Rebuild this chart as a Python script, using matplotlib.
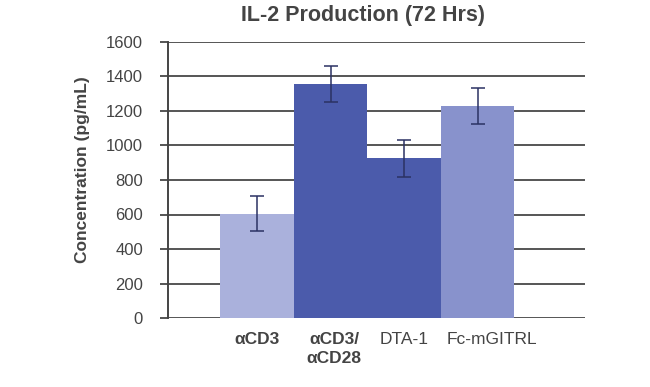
import matplotlib
matplotlib.use("Agg")
import matplotlib.pyplot as plt

categories = ["αCD3", "αCD3/\nαCD28", "DTA-1", "Fc-mGITRL"]
values = [605, 1355, 925, 1230]
errors = [100, 105, 105, 105]
colors = ["#aab1dc", "#4b5bab", "#4b5bab", "#8892cc"]
bold = [True, True, False, False]
yticks = [0, 200, 400, 600, 800, 1000, 1200, 1400, 1600]

plt.rcParams['font.family'] = ['Liberation Sans', 'DejaVu Sans']

fig = plt.figure(figsize=(6.5, 3.87), dpi=100)
ax = fig.add_axes([168/650, 1-318/387, (585-168)/650, (318-42)/387])

x = list(range(len(values)))
ax.bar(x, values, width=1.0, color=colors, zorder=2)
ax.errorbar(x, values, yerr=errors, fmt='none', ecolor='#2b3263', elinewidth=1.1,
            capsize=5, capthick=1.1, zorder=3)

ax.set_xlim(-1.21, 4.46)
ax.set_ylim(0, 1600)
ax.set_yticks(yticks)
ax.set_yticklabels([str(t) for t in yticks], fontsize=12, color='#444444')
ax.yaxis.grid(True, color='#555555', linewidth=1.4, zorder=1)
ax.set_axisbelow(True)
ax.tick_params(axis='y', length=6, width=1.4, color='#555555', pad=12)
ax.tick_params(axis='x', length=0)
ax.set_xticks(x)
ax.set_xticklabels([])
label_dx = [0.0, 0.05, 0.0, 0.19]
for xi, lab, b, dx in zip(x, categories, bold, label_dx):
    ax.text(xi + dx, -82, lab, ha='center', va='top', fontsize=12.5, color='#444444',
            fontweight='bold' if b else 'normal', linespacing=1.3)

for s in ['top', 'right', 'bottom']:
    ax.spines[s].set_visible(False)
ax.spines['left'].set_color('#444444')
ax.spines['left'].set_linewidth(1.4)

fig.text(83/650, 1-170/387, "Concentration (pg/mL)", rotation=90, ha='center', va='center',
         fontsize=12.5, fontweight='bold', color='#444444')
fig.text(363/650, 1-15/387, "IL-2 Production (72 Hrs)", ha='center', va='center',
         fontsize=15.5, fontweight='bold', color='#444444')

fig.savefig("out.png", dpi=100)
